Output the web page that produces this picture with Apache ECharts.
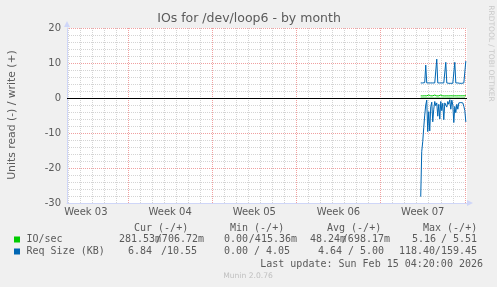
<!DOCTYPE html>
<html><head><meta charset="utf-8">
<script src="https://cdn.jsdelivr.net/npm/echarts@6/dist/echarts.min.js"></script>
<style>html,body{margin:0;padding:0;background:#f0f0f0;}#c{width:497px;height:287px;}</style>
</head><body><div id="c"></div>
<script>
// ---- data (x in days relative to Sun Feb 15 2026 00:00) ----
const xMin = -33.07, xMax = 0.18;
const weekLabels = ['Week 03', 'Week 04', 'Week 05', 'Week 06', 'Week 07'];
const weekLabelDays = [-31.5, -24.5, -17.5, -10.5, -3.5];
const weekLineDays = [-28, -21, -14, -7, 0];
const dayLineDays = [-33, -32, -31, -30, -29, -27, -26, -25, -24, -23, -22, -20, -19, -18, -17, -16, -15, -13, -12, -11, -10, -9, -8, -6, -5, -4, -3, -2, -1];
const yMin = -30, yMax = 20, yStep = 10;

const startHour = -88, stepHours = 2;   // samples every 2 hours
const ioRead = [0.02,0.05,0.03,0.04,0.02,0.06,0.03,0.02,0.04,0.05,0.03,0.02,0.04,0.03,0.05,0.02,0.03,0.04,0.02,0.03,0.05,0.04,0.02,0.03,0.04,0.02,0.03,0.05,0.02,0.04,0.03,0.02,0.04,0.03,0.05,0.02,0.03,0.04,0.02,0.03,0.05,0.04,0.03,0.02,0.04,0.28];
const ioWrite = [0.62,0.64,0.60,0.85,0.63,0.61,0.62,0.60,0.86,0.64,0.62,0.61,0.63,0.62,0.84,0.61,0.60,0.63,0.62,0.61,0.85,0.64,0.62,0.61,0.60,0.63,0.62,0.86,0.61,0.62,0.64,0.60,0.62,0.85,0.63,0.61,0.62,0.60,0.64,0.86,0.62,0.61,0.63,0.62,0.64,0.71];
const reqRead = [28.2,15.3,12.5,8.5,4.9,2.0,0.6,9.6,3.9,9.4,2.5,1.2,6.8,3.2,1.0,2.2,1.4,5.2,1.8,6.0,1.0,3.6,1.5,6.2,1.4,0.9,2.6,1.0,1.8,0.5,3.2,0.6,2.0,7.0,2.4,4.2,1.8,3.2,1.4,0.9,1.3,1.2,1.4,2.4,3.6,6.84];
const reqWrite = [4.3,4.2,4.3,4.3,4.4,9.4,4.3,4.2,4.3,4.2,4.3,4.2,4.3,4.2,4.3,4.3,11.1,4.3,4.2,4.3,4.2,4.3,4.2,4.3,4.3,10.2,4.3,4.2,4.2,4.3,4.2,4.3,4.2,4.3,10.2,4.3,4.2,4.3,4.2,4.2,4.3,4.2,4.3,4.3,4.4,10.55];

const legendHeaders = ['Cur (-/+)', 'Min (-/+)', 'Avg (-/+)', 'Max (-/+)'];
const legendNames = ['IO/sec', 'Req Size (KB)'];
const ioStats = [['281.53m', '/706.72m'], ['0.00', '/415.36m'], ['48.24m', '/698.17m'], ['5.16', '/ 5.51']];
const reqStats = [['6.84', '/10.55'], ['0.00', '/ 4.05'], ['4.64', '/ 5.00'], ['118.40', '/159.45']];
const lastUpdate = 'Last update: Sun Feb 15 04:20:00 2026';
const colors = ['#00cc00', '#0066b3'];

// ---- build ----
function toPts(vals, sign) {
  return vals.map((v, i) => [(startHour + i * stepHours) / 24, sign * v]);
}
const FONT = '"DejaVu Sans", sans-serif';
const MONO = '"DejaVu Sans Mono", monospace';
const TXT = '#5a5a5a';

const gridLeft = 67, gridTop = 28, gridW = 400, gridH = 175;

const graphics = [];
function txt(text, x, y, font, fill, align, extra) {
  graphics.push(Object.assign({ type: 'text', x: x, y: y, silent: true,
    style: { text: text, font: font, fill: fill, textAlign: align || 'left', textVerticalAlign: 'middle' } }, extra || {}));
}
txt('IOs for /dev/loop6 - by month', 249, 19, '12.5px ' + FONT, TXT, 'center');
txt('Units read (-) / write (+)', 12, 115, '10.8px ' + FONT, TXT, 'center', { rotation: Math.PI / 2 });
txt('RRDTOOL / TOBI OETIKER', 490.5, 53.5, '7.5px ' + FONT, '#c8c8c8', 'center', { rotation: -Math.PI / 2 });
txt('Munin 2.0.76', 248, 276, '7.6px ' + FONT, '#c0c0c0', 'center');

const headX = [134, 230, 327, 423];
legendHeaders.forEach((h, i) => txt(h, headX[i], 228, '10px ' + MONO, TXT, 'left'));
const rowY = [239.5, 251.5];
legendNames.forEach((n, i) => txt(n, 26.5, rowY[i], '10px ' + MONO, TXT, 'left'));
graphics.push({ type: 'rect', shape: { x: 14, y: 236.5, width: 6, height: 6 }, style: { fill: colors[0] }, silent: true });
graphics.push({ type: 'rect', shape: { x: 14, y: 248.5, width: 6, height: 6 }, style: { fill: colors[1] }, silent: true });
const ioLeft = [119, 224, 310, 412], ioRight = [204, 297, 390, 477];
const reqLeft = [128, 224, 318, 399], reqRight = [197, 290, 384, 477];
ioStats.forEach((s, i) => {
  txt(s[0], ioLeft[i], rowY[0], '10px ' + MONO, TXT, 'left');
  txt(s[1], ioRight[i], rowY[0], '10px ' + MONO, TXT, 'right');
});
reqStats.forEach((s, i) => {
  txt(s[0], reqLeft[i], rowY[1], '10px ' + MONO, TXT, 'left');
  txt(s[1], reqRight[i], rowY[1], '10px ' + MONO, TXT, 'right');
});
txt(lastUpdate, 483, 264, '10px ' + MONO, TXT, 'right');

const minorGrid = { color: '#d4d4d4', width: 1, type: [1, 1] };
const majorGrid = { color: '#f0a0a0', width: 1, type: [1, 1] };
const axisCol = '#CFD6F8';

const option = {
  animation: false,
  backgroundColor: '#f0f0f0',
  grid: { left: gridLeft, top: gridTop, width: gridW, height: gridH, show: true, backgroundColor: '#ffffff', borderWidth: 0 },
  xAxis: [{
    type: 'value', min: xMin, max: xMax, position: 'bottom',
    axisLine: { show: true, onZero: false, lineStyle: { color: axisCol, width: 1 }, symbol: ['none', 'triangle'], symbolSize: [6, 6], symbolOffset: [0, 3] },
    axisTick: { show: false, customValues: dayLineDays },
    axisLabel: { customValues: weekLabelDays, formatter: v => weekLabels[weekLabelDays.indexOf(v)] || '', color: TXT, fontFamily: 'DejaVu Sans', fontSize: 10, margin: 4 },
    splitLine: { show: true, lineStyle: minorGrid }
  }, {
    type: 'value', min: xMin, max: xMax, position: 'bottom',
    axisLine: { show: false }, axisLabel: { show: false },
    axisTick: { show: false, customValues: weekLineDays },
    splitLine: { show: true, lineStyle: majorGrid }
  }],
  yAxis: {
    type: 'value', min: yMin, max: yMax, interval: yStep,
    axisLine: { show: true, onZero: false, lineStyle: { color: axisCol, width: 1 }, symbol: ['none', 'triangle'], symbolSize: [6, 6], symbolOffset: [0, 4] },
    axisTick: { show: false },
    axisLabel: { color: TXT, fontFamily: 'DejaVu Sans', fontSize: 10, margin: 6 },
    splitLine: { show: true, lineStyle: majorGrid },
    minorTick: { show: false, splitNumber: 5 },
    minorSplitLine: { show: true, lineStyle: minorGrid }
  },
  graphic: graphics,
  series: [
    { name: 'io read', type: 'line', data: toPts(ioRead, -1), showSymbol: false, z: 2, lineStyle: { color: colors[0], width: 1 }, itemStyle: { color: colors[0] } },
    { name: 'io write', type: 'line', data: toPts(ioWrite, 1), showSymbol: false, z: 2, lineStyle: { color: colors[0], width: 1 }, itemStyle: { color: colors[0] } },
    { name: 'zero', type: 'line', data: [], z: 3, markLine: { silent: true, symbol: ['none', 'none'], label: { show: false }, lineStyle: { color: '#000', width: 1, type: 'solid' }, data: [{ yAxis: 0 }] } },
    { name: 'req read', type: 'line', data: toPts(reqRead, -1), showSymbol: false, z: 4, lineStyle: { color: colors[1], width: 1 }, itemStyle: { color: colors[1] } },
    { name: 'req write', type: 'line', data: toPts(reqWrite, 1), showSymbol: false, z: 4, lineStyle: { color: colors[1], width: 1 }, itemStyle: { color: colors[1] } }
  ]
};
const chart = echarts.init(document.getElementById('c'), null, { renderer: 'canvas' });
chart.setOption(option);
</script></body></html>
